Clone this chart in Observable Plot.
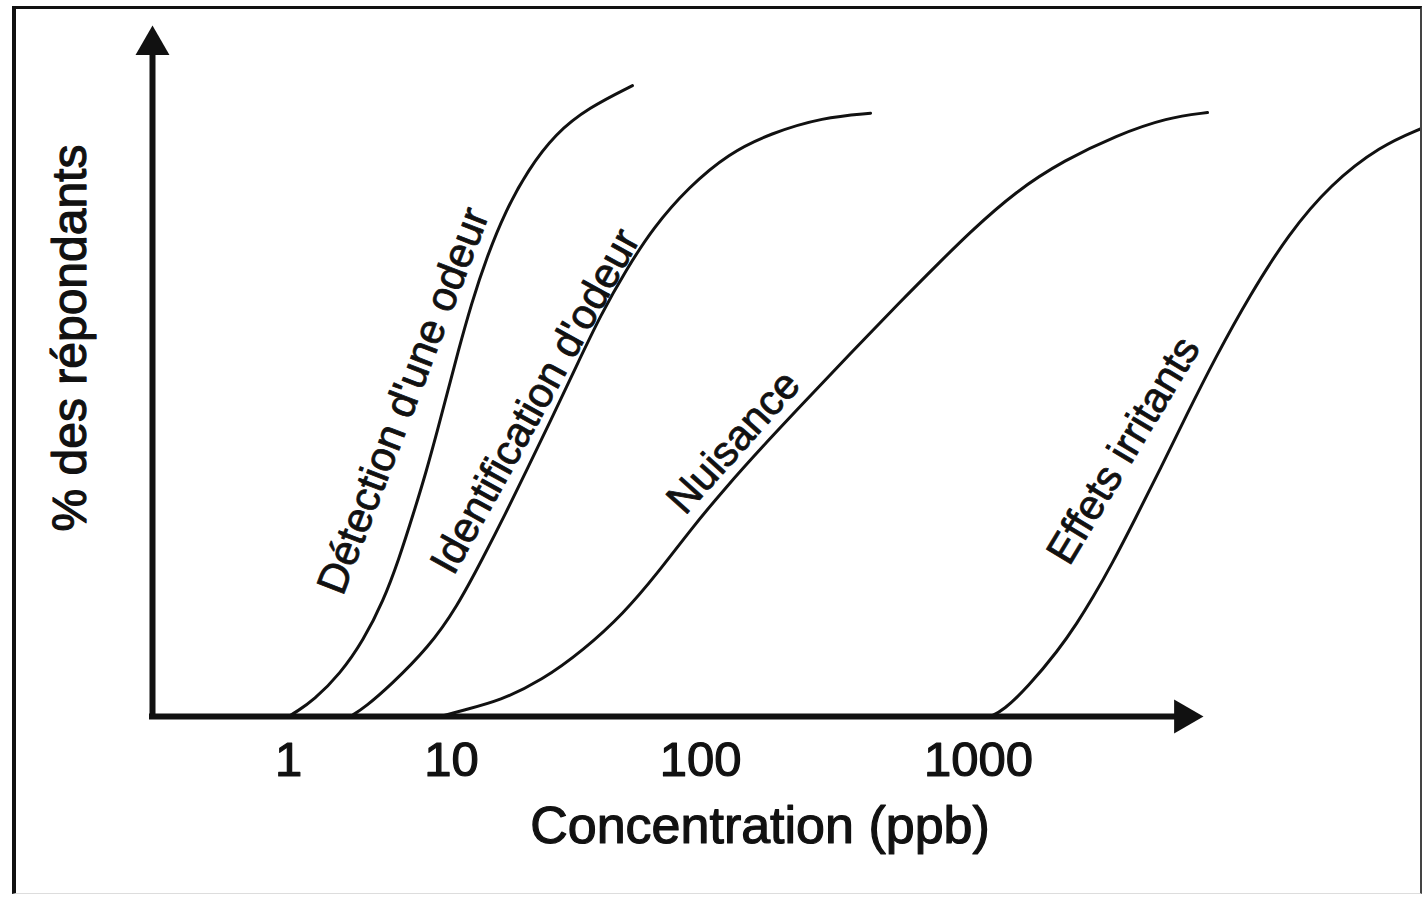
<!DOCTYPE html>
<html>
<head>
<meta charset="utf-8">
<script src="https://cdn.jsdelivr.net/npm/d3@7"></script>
<script src="https://cdn.jsdelivr.net/npm/@observablehq/plot@0.6"></script>
<style>
  html, body { margin: 0; padding: 0; background: #fff; }
  #wrap { position: relative; width: 1422px; height: 902px; overflow: hidden; }
  #frame { position: absolute; left: 12px; top: 6px; width: 1404px; height: 884px;
           border-left: 4px solid #111; border-top: 3px solid #111;
           border-right: 2px solid #444; border-bottom: 1px solid #ddd; pointer-events: none; }
</style>
</head>
<body>
<div id="wrap"><div id="frame"></div></div>
<script>
// ---- data (concentration in ppb, share of respondents in %) ----
const xTicks = [1, 10, 100, 1000];
const xAxisMin = 0.15;      // left end of the concentration axis
const xAxisMax = 6450;      // tip of the concentration arrow
const xTickPos = [152, 288, 451, 700, 978, 1203]; // uneven scale as drawn in the original

const seriesNames = ["Détection d'une odeur", "Identification d'odeur", "Nuisance", "Effets irritants"];

const detectionX = [1.0, 1.12, 1.42, 2.08, 2.88, 3.83, 4.73, 5.85, 7.03, 8.2, 9.52, 10.57, 12.03, 13.82, 16.5, 20.2, 26.2, 35.5, 53.3];
const detectionY = [0, 0.7, 2.3, 6.2, 11.0, 16.8, 22.6, 29.4, 35.6, 41.4, 47.2, 52.5, 59.8, 66.4, 73.2, 79.0, 84.4, 88.1, 91.3];

const identificationX = [2.4, 2.97, 4.22, 7.23, 10.5, 13.4, 16.5, 20.0, 25.0, 31.8, 40.0, 50.0, 64.7, 89.5, 126.3, 178.6, 275, 409];
const identificationY = [0, 1.4, 4.5, 10.0, 15.8, 23.0, 29.4, 35.6, 42.8, 50.8, 58.3, 64.5, 70.8, 76.6, 81.5, 84.4, 86.7, 87.3];

const nuisanceX = [8.56, 11.1, 15.7, 23.0, 33.9, 49.1, 67.1, 92.9, 123, 165.6, 238.8, 340, 528, 736, 921, 1370, 2036, 3132, 4786, 6668];
const nuisanceY = [0, 0.9, 2.3, 5.2, 9.6, 14.9, 20.7, 27.4, 33.1, 38.9, 45.7, 52.2, 60.2, 66.0, 69.9, 76.1, 80.5, 84.1, 86.7, 87.4];

const irritantsX = [1105, 1230, 1500, 1941, 2270, 2570, 3007, 3673, 4520, 5598, 7129, 9440, 13030, 18450, 27930, 39270];
const irritantsY = [0, 0.9, 4.2, 9.6, 13.6, 17.1, 21.9, 28.7, 35.9, 43.6, 52.0, 60.9, 69.8, 77.0, 82.6, 85.1];

const labelX = [5.08, 21.7, 131.5, 3327];
const labelY = [45.7, 45.6, 39.7, 38.5];
const labelAngle = [-69, -61, -48, -59];

const xTitle = "Concentration (ppb)";
const yTitle = "% des répondants";

// ---- build tables ----
const seriesX = [detectionX, identificationX, nuisanceX, irritantsX];
const seriesY = [detectionY, identificationY, nuisanceY, irritantsY];
const points = seriesNames.flatMap((name, s) => seriesX[s].map((x, i) => ({name, x, y: seriesY[s][i]})));
const labels = seriesNames.map((name, i) => ({name, x: labelX[i], y: labelY[i], a: labelAngle[i]}));

const font = "'Liberation Sans', Arial, Helvetica, sans-serif";
const W = 1422, H = 902;

const chart = Plot.plot({
  width: W,
  height: H,
  marginLeft: 152,
  marginRight: 219,
  marginTop: 25,
  marginBottom: 186,
  style: {fontFamily: font, background: "transparent", color: "#111"},
  x: {type: "log", domain: [xAxisMin, ...xTicks, xAxisMax], range: xTickPos, axis: null},
  y: {domain: [0, 100], axis: null},
  marks: [
    // axes
    Plot.ruleX([xAxisMin], {y1: 0, y2: 97, stroke: "#111", strokeWidth: 6, strokeLinecap: "square"}),
    Plot.ruleY([0], {x1: xAxisMin, x2: 5500, stroke: "#111", strokeWidth: 6, strokeLinecap: "square"}),
    Plot.dot([xAxisMin], {x: d => d, y: 100, dy: 19.6, symbol: "triangle", r: 12.6, fill: "#111", stroke: null}),
    Plot.dot([0], {x: xAxisMax, y: 0, dx: -19.6, symbol: "triangle", rotate: 90, r: 12.6, fill: "#111", stroke: null}),
    // curves
    Plot.line(points, {x: "x", y: "y", z: "name", curve: "basis", stroke: "#111", strokeWidth: 3}),
    // curve labels
    Plot.text(labels, {x: "x", y: "y", text: "name", rotate: "a", fontSize: 42, fill: "#111",
                       stroke: "#111", strokeWidth: 0.8, textAnchor: "middle", lineAnchor: "middle"}),
    // tick labels
    Plot.text(xTicks, {x: d => d, y: 0, dy: 44, text: d => String(d), fontSize: 49, fill: "#111",
                       stroke: "#111", strokeWidth: 1.2, textAnchor: "middle", lineAnchor: "middle"}),
    // titles
    Plot.text([xTitle], {frameAnchor: "bottom", dx: 82, dy: 110, text: d => d, fontSize: 52, fill: "#111",
                         stroke: "#111", strokeWidth: 1.2, textAnchor: "middle", lineAnchor: "middle"}),
    Plot.text([yTitle], {frameAnchor: "left", dx: -82, dy: -33, rotate: -90, text: d => d, fontSize: 48, fill: "#111",
                         stroke: "#111", strokeWidth: 1.2, textAnchor: "middle", lineAnchor: "middle"})
  ]
});
document.getElementById("wrap").prepend(chart);
</script>
</body>
</html>
